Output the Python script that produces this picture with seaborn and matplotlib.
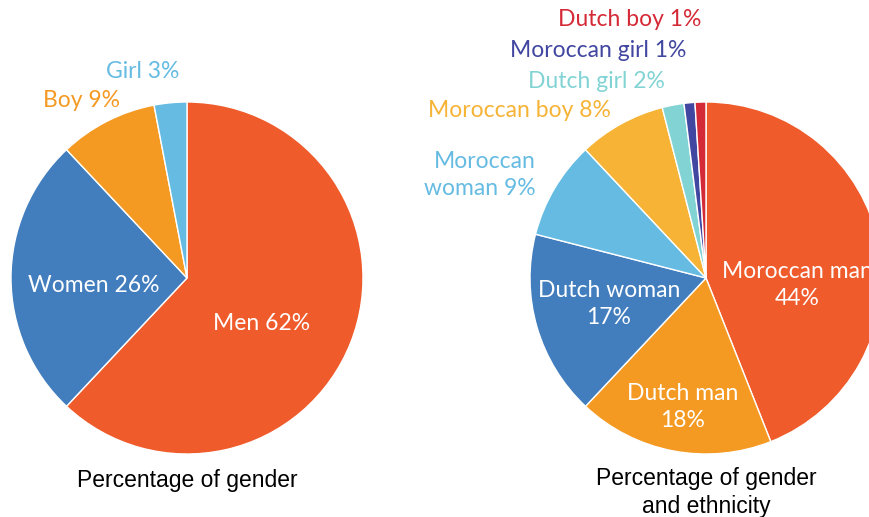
import matplotlib.pyplot as plt
import seaborn as sns

# data
gender_labels = ['Men', 'Women', 'Boy', 'Girl']
gender_values = [62, 26, 9, 3]
gender_colors = ['#EF5B2B', '#427EBE', '#F49A23', '#66BBE2']

eth_labels = ['Moroccan man', 'Dutch man', 'Dutch woman', 'Moroccan woman',
              'Moroccan boy', 'Dutch girl', 'Moroccan girl', 'Dutch boy']
eth_values = [44, 18, 17, 9, 8, 2, 1, 1]
eth_colors = ['#EF5B2B', '#F49A23', '#427EBE', '#66BBE2',
              '#F6B335', '#82D3D4', '#4146A0', '#D42A37']

sns.set_style('white')
plt.rcParams['font.family'] = ['Lato', 'DejaVu Sans']

W, H = 869, 517
R = 176
fig = plt.figure(figsize=(W / 100, H / 100), dpi=100)


def pie_axes(cx, cy):
    ax = fig.add_axes([(cx - R) / W, (H - cy - R) / H, 2 * R / W, 2 * R / H])
    ax.set_xlim(-1, 1)
    ax.set_ylim(-1, 1)
    ax.axis('off')
    return ax


wp = dict(edgecolor='white', linewidth=1)
LABEL_FS = 16.5
TITLE_FS = 16.5

ax1 = pie_axes(187, 278)
ax1.pie(gender_values, colors=gender_colors, startangle=90, counterclock=False,
        wedgeprops=wp, radius=1, frame=False)
ax1.set_xlim(-1, 1)
ax1.set_ylim(-1, 1)

# label positions (data units, pie radius = 1) and text colour
left_pos = {
    'Men': (0.426, -0.261, 'white', 'center'),
    'Women': (-0.528, -0.045, 'white', 'center'),
    'Boy': (-0.597, 1.011, '#F49A23', 'center'),
    'Girl': (-0.25, 1.176, '#66BBE2', 'center'),
}
for lab, val in zip(gender_labels, gender_values):
    x, y, c, ha = left_pos[lab]
    ax1.text(x, y, f'{lab} {val}%', color=c, ha=ha, va='center', fontsize=LABEL_FS)
ax1.text(0, -1.15, 'Percentage of gender', ha='center', va='center',
         fontsize=TITLE_FS, color='black', family=['Liberation Sans', 'DejaVu Sans'])

ax2 = pie_axes(706, 278)
ax2.pie(eth_values, colors=eth_colors, startangle=90, counterclock=False,
        wedgeprops=wp, radius=1, frame=False)
ax2.set_xlim(-1, 1)
ax2.set_ylim(-1, 1)

right_pos = {
    'Moroccan man': (0.517, -0.04, 'white', 'center', '{}\n{}%'),
    'Dutch man': (-0.131, -0.733, 'white', 'center', '{}\n{}%'),
    'Dutch woman': (-0.551, -0.148, 'white', 'center', '{}\n{}%'),
    'Moroccan woman': (-0.966, 0.585, '#66BBE2', 'right', 'Moroccan\nwoman {1}%'),
    'Moroccan boy': (-1.0625, 0.949, '#F6B335', 'center', '{} {}%'),
    'Dutch girl': (-0.625, 1.114, '#82D3D4', 'center', '{} {}%'),
    'Moroccan girl': (-0.614, 1.295, '#4146A0', 'center', '{} {}%'),
    'Dutch boy': (-0.432, 1.466, '#D42A37', 'center', '{} {}%'),
}
for lab, val in zip(eth_labels, eth_values):
    x, y, c, ha, fmt = right_pos[lab]
    ax2.text(x, y, fmt.format(lab, val), color=c, ha=ha, va='center',
             fontsize=LABEL_FS, multialignment=ha, linespacing=1.3)
ax2.text(0, -1.22, 'Percentage of gender\nand ethnicity', ha='center',
         va='center', fontsize=TITLE_FS, color='black', linespacing=1.3,
         family=['Liberation Sans', 'DejaVu Sans'])

fig.savefig('out.png', dpi=100)
